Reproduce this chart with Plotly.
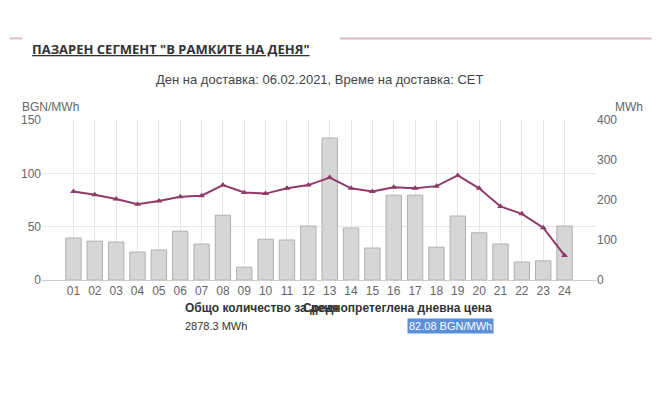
import plotly.graph_objects as go

hours = [f"{h:02d}" for h in range(1, 25)]
volume_mwh = [105, 97, 95, 70, 75, 122, 90, 162, 32, 102, 100, 135,
              355, 130, 80, 212, 212, 82, 160, 118, 90, 45, 48, 135]
price_bgn = [83, 80, 76, 71, 74, 78, 79, 89, 82, 81, 86, 89,
             96, 86, 83, 87, 86, 88, 98, 86, 69, 62, 49, 23]

grey = "#666666"
fig = go.Figure()
# bars on the base axis (right side), price line on the overlaying axis so it is drawn on top
fig.add_trace(go.Bar(x=hours, y=volume_mwh, yaxis="y", width=0.72,
                     marker=dict(color="#d6d6d6", line=dict(color="#b0b0b0", width=1))))
fig.add_trace(go.Scatter(x=hours, y=price_bgn, yaxis="y2", mode="lines+markers",
                         line=dict(color="#8e3b69", width=2),
                         marker=dict(symbol="triangle-up", size=6, color="#8e3b69")))

fig.update_layout(
    width=672, height=408, showlegend=False,
    paper_bgcolor="white", plot_bgcolor="white",
    margin=dict(l=34, r=84, t=112, b=136, autoexpand=False),
    font=dict(family="Liberation Sans, Arial", size=12, color=grey),
    xaxis=dict(showgrid=True, gridcolor="#e6e6e6", linecolor="#cccccc",
               ticks="", tickfont=dict(size=12, color=grey)),
    yaxis=dict(range=[0, 400], dtick=100, side="right", showgrid=False,
               zeroline=False, tickfont=dict(color=grey)),
    yaxis2=dict(range=[0, 150], dtick=50, overlaying="y", side="left",
                showgrid=True, gridcolor="#e6e6e6", zeroline=False,
                tickfont=dict(color=grey)),
    bargap=0.28,
    shapes=[
        dict(type="line", xref="paper", yref="paper", x0=-0.058, x1=-0.036,
             y0=1.51, y1=1.51, line=dict(color="#d8b8c4", width=2)),
        dict(type="line", xref="paper", yref="paper", x0=0.538, x1=1.10,
             y0=1.51, y1=1.51, line=dict(color="#d8b8c4", width=2)),
    ],
    annotations=[
        dict(text="<b><u>ПАЗАРЕН СЕГМЕНТ \"В РАМКИТЕ НА ДЕНЯ\"</u></b>", x=-0.022,
             y=1.51, xref="paper", yref="paper", xanchor="left", showarrow=False,
             font=dict(size=13, color="#333333", family="Open Sans")),
        dict(text="Ден на доставка: 06.02.2021, Време на доставка: CET", x=0.5,
             y=1.31, xref="paper", yref="paper", showarrow=False,
             font=dict(size=13, color="#444444")),
        dict(text="BGN/MWh", x=-0.04, y=1.14, xref="paper", yref="paper",
             xanchor="left", showarrow=False, font=dict(size=12, color=grey)),
        dict(text="MWh", x=1.088, y=1.14, xref="paper", yref="paper",
             xanchor="right", showarrow=False, font=dict(size=12, color=grey)),
        dict(text="<b>Общо количество за деня</b>", x=0.255, y=-0.23,
             xref="paper", yref="paper", showarrow=False,
             font=dict(size=12, color="#333333")),
        dict(text="2878.3 MWh", x=0.255, y=-0.34, xref="paper", yref="paper",
             showarrow=False, font=dict(size=11, color="#333333")),
        dict(text="<b>Среднопретеглена дневна цена</b>",
             x=0.816, y=-0.23, xref="paper", yref="paper", showarrow=False,
             font=dict(size=12, color="#333333")),
        dict(text="82.08 BGN/MWh", x=0.816, y=-0.34, xref="paper", yref="paper",
             showarrow=False, bgcolor="#5b8fd9", font=dict(size=11, color="white")),
    ],
)

fig.write_html("out.html")
